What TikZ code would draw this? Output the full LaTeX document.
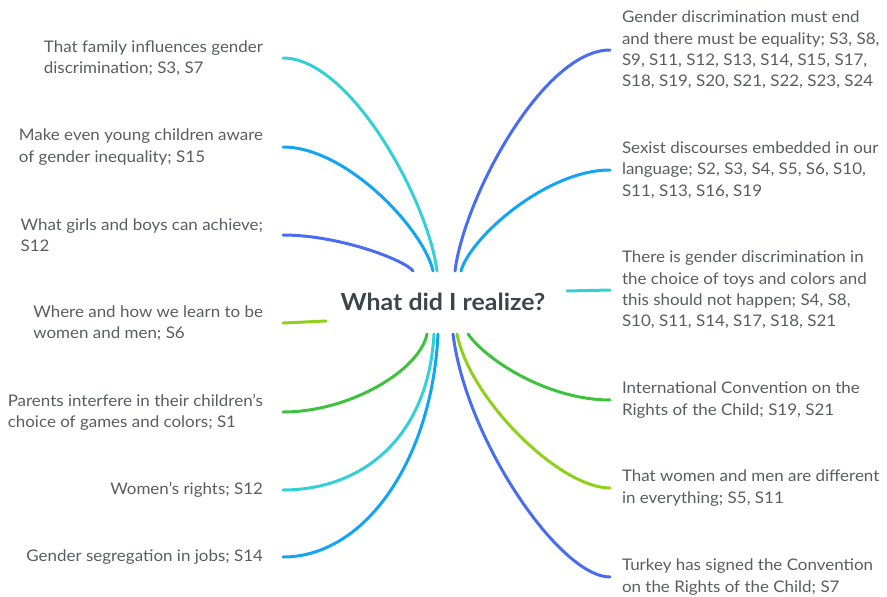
\documentclass[tikz,border=0pt]{standalone}
\usepackage{fontspec}
\setmainfont{Lato}[FakeStretch=1.06]
\definecolor{txt}{HTML}{5A5D60}
\definecolor{ttl}{HTML}{3C444C}
\definecolor{violet}{HTML}{4A6CF0}
\definecolor{sky}{HTML}{12A4F5}
\definecolor{cyanc}{HTML}{33D1D6}
\definecolor{grn}{HTML}{3DC23D}
\definecolor{lime}{HTML}{8FD11A}
\begin{document}
\begin{tikzpicture}[x=1pt,y=-1pt,
  leaf/.style={font=\fontsize{16}{21.3}\selectfont, text=txt, align=left, inner sep=0pt},
  lft/.style={leaf, anchor=east, outer xsep=20pt},
  rgt/.style={leaf, anchor=west, outer xsep=12pt},
  link/.style={line width=3pt, line cap=round}]
\useasboundingbox (0,0) rectangle (887,597);

% central topic
\node[font=\bfseries\fontsize{23.5}{26}\selectfont, text=ttl] (root) at (443,302) {What did I realize?};

% branch ends around the central topic
\coordinate (n1) at (413,271);
\coordinate (n2) at (433,271);
\coordinate (n3) at (437,271);
\coordinate (n4) at (455,271);
\coordinate (n5) at (461,271);
\coordinate (s1) at (427,334);
\coordinate (s2) at (434,334);
\coordinate (s3) at (438,334);
\coordinate (s4) at (453,334);
\coordinate (s5) at (457,334);
\coordinate (s6) at (468,334);
\coordinate (w1) at (326,321);
\coordinate (e1) at (567,291);

% left topics
\node[lft] (l1) at (283,58) {That family influences gender\\discrimination; S3, S7};
\node[lft] (l2) at (283,147) {Make even young children aware\\of gender inequality; S15};
\node[lft] (l3) at (283,235) {What girls and boys can achieve;\\S12};
\node[lft] (l4) at (283,323) {Where and how we learn to be\\women and men; S6};
\node[lft] (l5) at (283,412) {Parents interfere in their children's\\choice of games and colors; S1};
\node[lft] (l6) at (283,490) {Women's rights; S12};
\node[lft] (l7) at (283,557) {Gender segregation in jobs; S14};

% right topics
\node[rgt] (r1) at (610,50) {Gender discrimination must end\\and there must be equality; S3, S8,\\S9, S11, S12, S13, S14, S15, S17,\\S18, S19, S20, S21, S22, S23, S24};
\node[rgt] (r2) at (610,170) {Sexist discourses embedded in our\\language; S2, S3, S4, S5, S6, S10,\\S11, S13, S16, S19};
\node[rgt] (r3) at (610,290) {There is gender discrimination in\\the choice of toys and colors and\\this should not happen; S4, S8,\\S10, S11, S14, S17, S18, S21};
\node[rgt] (r4) at (610,400) {International Convention on the\\Rights of the Child; S19, S21};
\node[rgt] (r5) at (610,488) {That women and men are different\\in everything; S5, S11};
\node[rgt] (r6) at (610,577) {Turkey has signed the Convention\\on the Rights of the Child; S7};

% left branches
\draw[link, cyanc]  (l1.east) .. controls (350,58) and (428,200) .. (n3);
\draw[link, sky]    (l2.east) .. controls (347,147) and (424,230) .. (n2);
\draw[link, violet] (l3.east) .. controls (339,235) and (405,260) .. (n1);
\draw[link, lime]   (l4.east) -- (w1);
\draw[link, grn]    (l5.east) .. controls (350,412) and (420,370) .. (s1);
\draw[link, cyanc]  (l6.east) .. controls (360,490) and (428,440) .. (s2);
\draw[link, sky]    (l7.east) .. controls (365,557) and (432,460) .. (s3);

% right branches
\draw[link, violet] (r1.west) .. controls (543,50) and (464,198) .. (n4);
\draw[link, sky]    (r2.west) .. controls (546,170) and (470,238) .. (n5);
\draw[link, cyanc]  (r3.west) -- (e1);
\draw[link, grn]    (r4.west) .. controls (550,400) and (488,362) .. (s6);
\draw[link, lime]   (r5.west) .. controls (560,488) and (470,400) .. (s5);
\draw[link, violet] (r6.west) .. controls (560,577) and (466,440) .. (s4);
\end{tikzpicture}
\end{document}
